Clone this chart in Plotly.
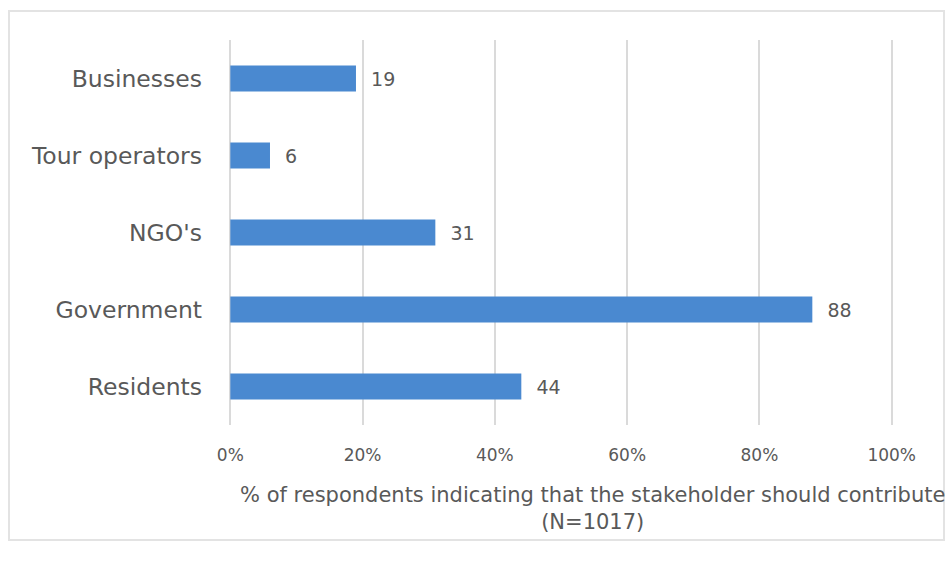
import plotly.graph_objects as go

# Stakeholder categories (top to bottom) and share of respondents (%)
categories = ["Businesses", "Tour operators", "NGO's", "Government", "Residents"]
values = [19, 6, 31, 88, 44]
tick_vals = [0, 20, 40, 60, 80, 100]
tick_text = ["0%", "20%", "40%", "60%", "80%", "100%"]
axis_title = "% of respondents indicating that the stakeholder should contribute<br>(N=1017)"

W, H = 948, 564
# x range is padded slightly so the 0% and 100% gridlines are drawn
x_range = [-0.5, 100.5]
L, R, T, B = 227, 53, 40, 139
pw, ph = W - L - R, H - T - B

def px_x(px):
    return (px - L) / pw

def px_y(py):
    return (H - B - py) / ph

text_color = "#595959"
font_family = "'DejaVu Sans', Verdana, sans-serif"
pad = "\u00a0\u00a0"

fig = go.Figure(
    go.Bar(
        x=values,
        y=categories,
        orientation="h",
        marker=dict(color="#4A89D0", line=dict(width=0)),
        texttemplate=pad + "%{x}",
        textposition="outside",
        textfont=dict(size=19, color=text_color, family=font_family),
        cliponaxis=False,
        width=0.34,
    )
)

fig.update_layout(
    width=W,
    height=H,
    margin=dict(l=L, r=R, t=T, b=B),
    paper_bgcolor="white",
    plot_bgcolor="white",
    showlegend=False,
    font=dict(family=font_family, color=text_color),
    xaxis=dict(
        range=x_range,
        tickvals=tick_vals,
        ticktext=tick_text,
        tickfont=dict(size=17, color=text_color),
        showgrid=True,
        gridcolor="#DADADA",
        gridwidth=2,
        zeroline=False,
        showline=False,
        ticks="",
        ticklabelstandoff=18,
        fixedrange=True,
    ),
    yaxis=dict(
        categoryorder="array",
        categoryarray=categories[::-1],
        tickfont=dict(size=23.5, color=text_color),
        showgrid=False,
        zeroline=False,
        showline=False,
        ticks="",
        ticklabelstandoff=24,
        range=[-0.5, 4.5],
    ),
    shapes=[
        dict(
            type="rect",
            xref="paper",
            yref="paper",
            x0=px_x(9),
            x1=px_x(944),
            y0=px_y(540),
            y1=px_y(11),
            line=dict(color="#E3E3E3", width=2),
            fillcolor="rgba(0,0,0,0)",
            layer="below",
        )
    ],
    annotations=[
        dict(
            text=axis_title,
            xref="paper",
            yref="paper",
            x=px_x(592),
            y=px_y(508),
            xanchor="center",
            yanchor="middle",
            align="center",
            showarrow=False,
            font=dict(size=21, color=text_color, family=font_family),
        ),
    ],
)

fig.write_html("out.html")
